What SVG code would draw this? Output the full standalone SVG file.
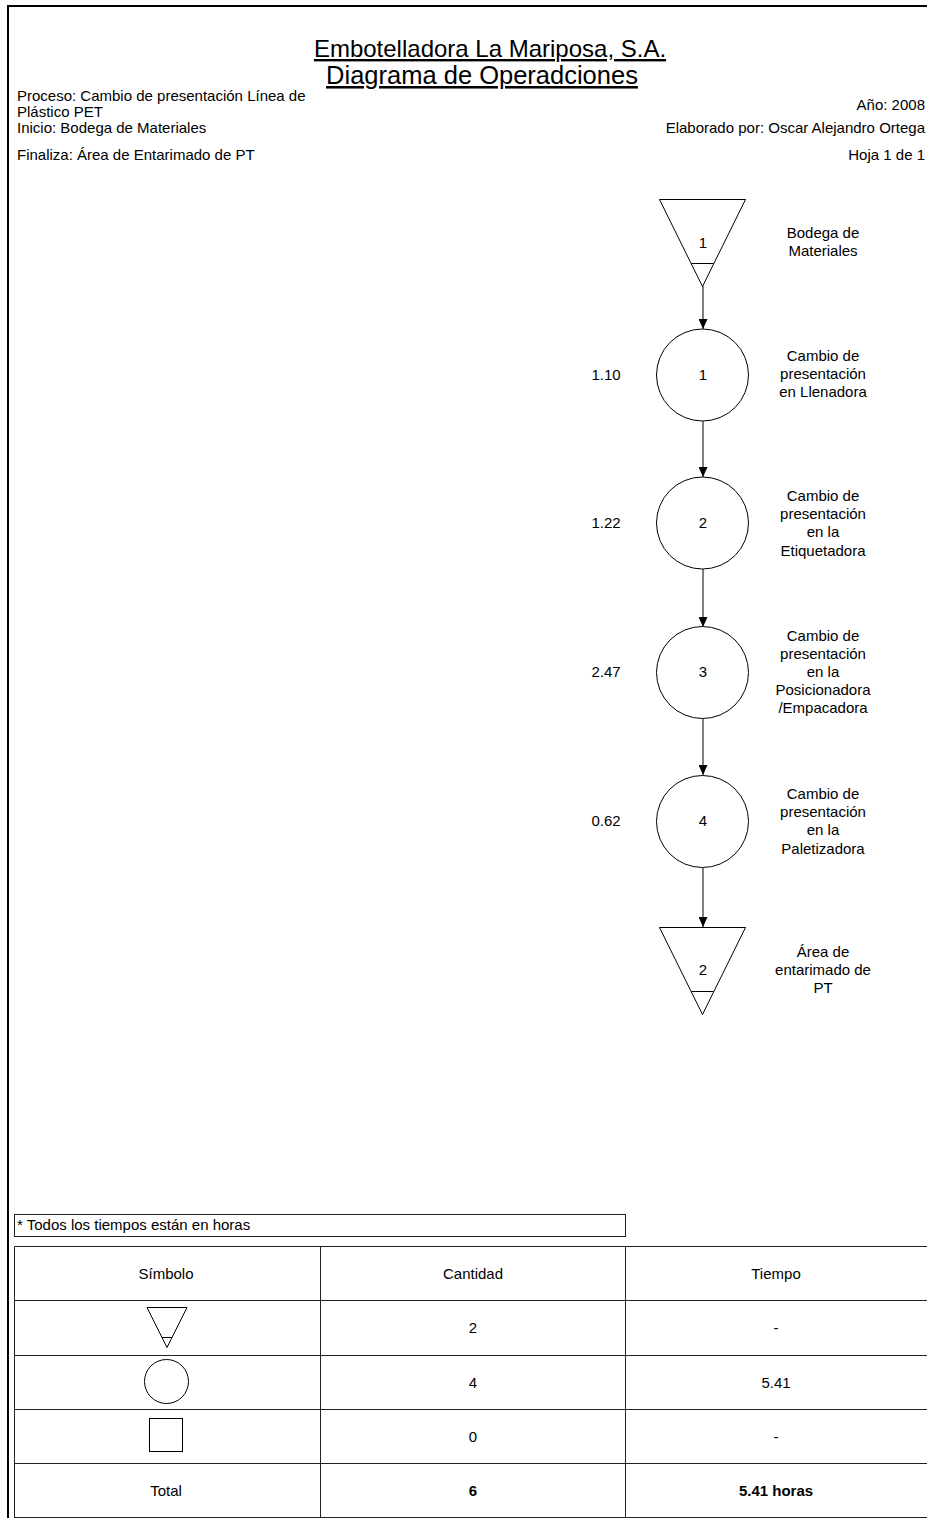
<svg xmlns="http://www.w3.org/2000/svg" width="927" height="1518" viewBox="0 0 927 1518">
  <style>
    text { font-family: "Liberation Sans", Arial, sans-serif; fill: #000; }
    .hdr { font-size: 15px; }
    .title { font-size: 24px; text-anchor: middle; text-decoration: underline; }
    .sub { font-size: 25.5px; }
    .lbl { font-size: 15px; text-anchor: middle; }
    .num { font-size: 15px; text-anchor: middle; }
    .shape { fill: #fff; stroke: #000; stroke-width: 1; }
    .edge { stroke: #000; stroke-width: 1; fill: none; marker-end: url(#arrow); }
    .grid { stroke: #222; stroke-width: 1; fill: none; }
    .cell { font-size: 15px; text-anchor: middle; }
  </style>
  <defs>
    <marker id="arrow" viewBox="0 0 10 9" refX="10" refY="4.5" markerWidth="10" markerHeight="9" markerUnits="userSpaceOnUse" orient="auto">
      <path d="M0,0 L10,4.5 L0,9 z" fill="#000"/>
    </marker>
  </defs>

  <rect width="927" height="1518" fill="#fff"/>
  <!-- page frame -->
  <path d="M8,1518 V6 H927" fill="none" stroke="#000" stroke-width="2"/>

  <!-- heading block -->
  <g id="heading">
    <text class="title" x="490" y="57">Embotelladora La Mariposa, S.A.</text>
    <text class="title sub" x="482" y="84">Diagrama de Operadciones</text>
    <text class="hdr" x="17" y="101">Proceso: Cambio de presentación Línea de</text>
    <text class="hdr" x="17" y="117">Plástico PET</text>
    <text class="hdr" x="17" y="133">Inicio: Bodega de Materiales</text>
    <text class="hdr" x="17" y="160">Finaliza: Área de Entarimado de PT</text>
    <text class="hdr" x="925" y="110" text-anchor="end">Año: 2008</text>
    <text class="hdr" x="925" y="133" text-anchor="end">Elaborado por: Oscar Alejandro Ortega</text>
    <text class="hdr" x="925" y="160" text-anchor="end">Hoja 1 de 1</text>
  </g>

  <!-- connectors -->
  <g id="connectors">
    <line class="edge" x1="703" y1="286" x2="703" y2="329"/>
    <line class="edge" x1="703" y1="421" x2="703" y2="477"/>
    <line class="edge" x1="703" y1="569" x2="703" y2="627"/>
    <line class="edge" x1="703" y1="718" x2="703" y2="775"/>
    <line class="edge" x1="703" y1="868" x2="703" y2="927"/>
  </g>

  <g id="store1">
    <path class="shape" d="M659.5,199.5 H745.5 L702.5,286.5 Z"/>
    <line class="shape" x1="691.5" y1="263.5" x2="713.5" y2="263.5"/>
    <text class="num" x="703" y="248">1</text>
    <text class="lbl" x="823" y="238">Bodega de</text>
    <text class="lbl" x="823" y="256">Materiales</text>
  </g>

  <g id="op1">
    <circle class="shape" cx="702.5" cy="375" r="46"/>
    <text class="num" x="703" y="380">1</text>
    <text class="num" x="606" y="380">1.10</text>
    <text class="lbl" x="823" y="361">Cambio de</text>
    <text class="lbl" x="823" y="379">presentación</text>
    <text class="lbl" x="823" y="397">en Llenadora</text>
  </g>

  <g id="op2">
    <circle class="shape" cx="702.5" cy="523" r="46"/>
    <text class="num" x="703" y="528">2</text>
    <text class="num" x="606" y="528">1.22</text>
    <text class="lbl" x="823" y="501">Cambio de</text>
    <text class="lbl" x="823" y="519">presentación</text>
    <text class="lbl" x="823" y="537">en la</text>
    <text class="lbl" x="823" y="556">Etiquetadora</text>
  </g>

  <g id="op3">
    <circle class="shape" cx="702.5" cy="672.5" r="46"/>
    <text class="num" x="703" y="677">3</text>
    <text class="num" x="606" y="677">2.47</text>
    <text class="lbl" x="823" y="641">Cambio de</text>
    <text class="lbl" x="823" y="659">presentación</text>
    <text class="lbl" x="823" y="677">en la</text>
    <text class="lbl" x="823" y="695">Posicionadora</text>
    <text class="lbl" x="823" y="713">/Empacadora</text>
  </g>

  <g id="op4">
    <circle class="shape" cx="702.5" cy="821.5" r="46"/>
    <text class="num" x="703" y="826">4</text>
    <text class="num" x="606" y="826">0.62</text>
    <text class="lbl" x="823" y="799">Cambio de</text>
    <text class="lbl" x="823" y="817">presentación</text>
    <text class="lbl" x="823" y="835">en la</text>
    <text class="lbl" x="823" y="854">Paletizadora</text>
  </g>

  <g id="store2">
    <path class="shape" d="M659.5,927.5 H745.5 L702.5,1014.5 Z"/>
    <line class="shape" x1="691.5" y1="991.5" x2="713.5" y2="991.5"/>
    <text class="num" x="703" y="975">2</text>
    <text class="lbl" x="823" y="957">Área de</text>
    <text class="lbl" x="823" y="975">entarimado de</text>
    <text class="lbl" x="823" y="993">PT</text>
  </g>

  <!-- note -->
  <g id="note">
    <rect class="grid" x="14.5" y="1214.5" width="611" height="22"/>
    <text class="hdr" x="17" y="1230">* Todos los tiempos están en horas</text>
  </g>

  <!-- summary table -->
  <g id="summary">
    <path class="grid" d="M14.5,1246.5 H927 M14.5,1300.5 H927 M14.5,1355.5 H927 M14.5,1409.5 H927 M14.5,1463.5 H927 M14.5,1517.5 H927 M14.5,1246.5 V1518 M320.5,1246.5 V1518 M625.5,1246.5 V1518"/>
    <text class="cell" x="166" y="1279">Símbolo</text>
    <text class="cell" x="473" y="1279">Cantidad</text>
    <text class="cell" x="776" y="1279">Tiempo</text>

    <path class="shape" d="M147,1307.5 H187 L167,1347.5 Z"/>
    <line class="shape" x1="162" y1="1337.5" x2="172" y2="1337.5"/>
    <text class="cell" x="473" y="1333">2</text>
    <text class="cell" x="776" y="1333">-</text>

    <circle class="shape" cx="166.5" cy="1381.5" r="22"/>
    <text class="cell" x="473" y="1388">4</text>
    <text class="cell" x="776" y="1388">5.41</text>

    <rect class="shape" x="149.5" y="1418.5" width="33" height="33"/>
    <text class="cell" x="473" y="1442">0</text>
    <text class="cell" x="776" y="1442">-</text>

    <text class="cell" x="166" y="1496">Total</text>
    <text class="cell" x="473" y="1496" font-weight="bold">6</text>
    <text class="cell" x="776" y="1496" font-weight="bold">5.41 horas</text>
  </g>
</svg>
